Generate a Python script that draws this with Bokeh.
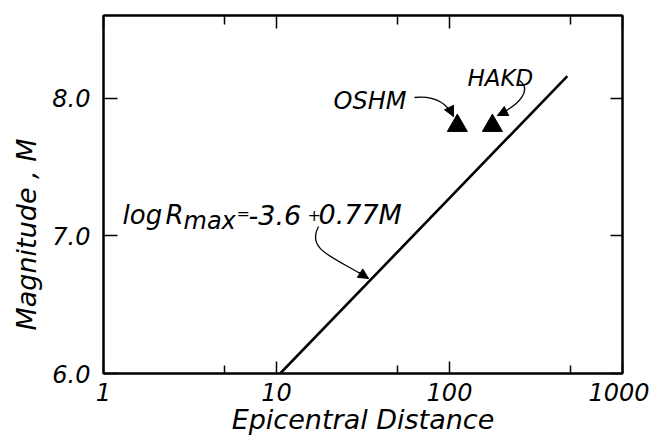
import math
from bokeh.plotting import figure
from bokeh.models import (FixedTicker, NumeralTickFormatter, CustomJSTickFormatter,
                          LinearAxis, LogAxis, Label, Arrow, NormalHead, Range1d, Title)
from bokeh.embed import file_html
from bokeh.resources import INLINE

# ---------------- data ----------------
line_R = [10.5, 480.0]          # epicentral distance at the ends of the relation line
line_M = [6.0, 8.16]            # magnitude at the ends of the relation line
station_names = ["OSHM", "HAKD"]
station_R = [111.0, 177.0]
station_M = [7.8, 7.8]
x_ticks = [1, 10, 100, 1000]
x_minor_ticks = [5, 50, 500]
y_ticks = [6.0, 7.0, 8.0]
x_title = "Epicentral Distance"
y_title = "Magnitude , M"
eq_parts = ["log", "R", "max", "=", "-3.6", "+", "0.77M"]

FONT = "DejaVu Sans"

# frame placement on the canvas (pixels), used for annotation placement
FL, FR, FT, FB = 103, 622, 15, 373
XMIN, XMAX, YMIN, YMAX = 1, 1000, 6.0, 8.6


def X(px):
    return 10 ** (math.log10(XMIN) + (px - FL) / (FR - FL) * (math.log10(XMAX) - math.log10(XMIN)))


def Y(py):
    return YMIN + (FB - py) / (FB - FT) * (YMAX - YMIN)


W, H = 649, 444
p = figure(width=W, height=H, x_axis_type="log",
           x_range=Range1d(XMIN, XMAX), y_range=Range1d(YMIN, YMAX),
           output_backend="svg", toolbar_location=None,
           min_border_left=FL, min_border_right=W - FR,
           min_border_top=FT, min_border_bottom=H - FB)
p.grid.visible = False
p.outline_line_color = "black"
p.outline_line_width = 2
p.background_fill_color = "white"
p.border_fill_color = "white"


def style_axis(ax, labels=True, tick=12, minor=8):
    ax.major_tick_in = tick
    ax.major_tick_out = 0
    ax.minor_tick_in = minor
    ax.minor_tick_out = 0
    ax.axis_line_width = 2
    ax.major_tick_line_width = 1.5
    ax.minor_tick_line_width = 1.5
    ax.axis_line_color = "black"
    ax.major_tick_line_color = "black"
    ax.minor_tick_line_color = "black"
    ax.major_label_text_font = FONT
    ax.major_label_text_font_style = "italic"
    ax.major_label_text_font_size = "24px"
    ax.major_label_text_color = "black"
    ax.major_label_standoff = 11
    if not labels:
        ax.formatter = CustomJSTickFormatter(code="return ''")
        ax.major_label_standoff = 0
        ax.major_label_text_font_size = "1px"


xb = p.xaxis[0]
xb.ticker = FixedTicker(ticks=x_ticks, minor_ticks=x_minor_ticks)
xb.formatter = NumeralTickFormatter(format="0")
style_axis(xb, tick=12, minor=8)
xb.major_label_standoff = 9
xb.axis_label = x_title
xb.axis_label_text_font = FONT
xb.axis_label_text_font_style = "italic"
xb.axis_label_text_font_size = "27px"
xb.axis_label_text_color = "black"
xb.axis_label_standoff = 0

yl = p.yaxis[0]
yl.ticker = FixedTicker(ticks=y_ticks)
yl.formatter = NumeralTickFormatter(format="0.0")
style_axis(yl, tick=14, minor=0)
yl.major_label_standoff = 13

xt = LogAxis(ticker=FixedTicker(ticks=x_ticks, minor_ticks=x_minor_ticks))
style_axis(xt, labels=False, tick=13, minor=9)
p.add_layout(xt, "above")

yr = LinearAxis(ticker=FixedTicker(ticks=y_ticks))
style_axis(yr, labels=False, tick=12, minor=0)
p.add_layout(yr, "right")

# y title placed as a side title so that it can sit below the frame's centre
p.add_layout(Title(text=y_title, align="left", offset=43, text_font=FONT,
                   text_font_style="italic", text_font_size="27px",
                   text_color="black", standoff=16), "left")

# relation line and stations
p.line(line_R, line_M, line_width=2.6, color="black")
p.scatter(station_R, station_M, marker="triangle", size=20, color="black")

# station names
for name, (px, py, fs) in zip(station_names, [(333, 100, "24px"), (467, 77, "23px")]):
    p.add_layout(Label(x=X(px), y=Y(py), text=name, text_font=FONT,
                       text_font_style="italic", text_font_size=fs,
                       text_align="left", text_baseline="alphabetic", text_color="black"))

# equation label pieces
eq_pos = [(122, 214, "26px"), (165, 214, "26px"), (183, 220, "24px"), (236, 213, "16px"),
          (248, 214, "27px"), (307, 214, "16px"), (318, 214, "27px")]
for txt, (px, py, fs) in zip(eq_parts, eq_pos):
    p.add_layout(Label(x=X(px), y=Y(py), text=txt, text_font=FONT,
                       text_font_style="italic", text_font_size=fs,
                       text_align="left", text_baseline="alphabetic", text_color="black"))

arrows = []

# OSHM pointer (quadratic)
s, c, e = (414, 97), (442, 94), (453, 116)
p.quadratic(x0=[X(s[0])], y0=[Y(s[1])], x1=[X(e[0])], y1=[Y(e[1])],
            cx=[X(c[0])], cy=[Y(c[1])], line_width=1.3, color="black")
arrows.append(((e[0] - 0.3 * (e[0] - c[0]), e[1] - 0.3 * (e[1] - c[1])), e))

# HAKD pointer (cubic)
s, c1, c2, e = (519, 80), (531, 89), (521, 103), (497, 115)
p.bezier(x0=[X(s[0])], y0=[Y(s[1])], x1=[X(e[0])], y1=[Y(e[1])],
         cx0=[X(c1[0])], cy0=[Y(c1[1])], cx1=[X(c2[0])], cy1=[Y(c2[1])],
         line_width=1.3, color="black")
arrows.append(((e[0] - 0.4 * (e[0] - c2[0]), e[1] - 0.4 * (e[1] - c2[1])), e))

# equation pointer (cubic)
s, c1, c2, e = (318, 226), (305, 250), (335, 257), (368, 278)
p.bezier(x0=[X(s[0])], y0=[Y(s[1])], x1=[X(e[0])], y1=[Y(e[1])],
         cx0=[X(c1[0])], cy0=[Y(c1[1])], cx1=[X(c2[0])], cy1=[Y(c2[1])],
         line_width=1.3, color="black")
arrows.append(((e[0] - 0.3 * (e[0] - c2[0]), e[1] - 0.3 * (e[1] - c2[1])), e))

for a, b in arrows:
    p.add_layout(Arrow(x_start=X(a[0]), y_start=Y(a[1]), x_end=X(b[0]), y_end=Y(b[1]),
                       line_width=1.3, line_color="black",
                       end=NormalHead(size=10, fill_color="black", line_color="black")))

open("out.html", "w").write(file_html(p, INLINE))
